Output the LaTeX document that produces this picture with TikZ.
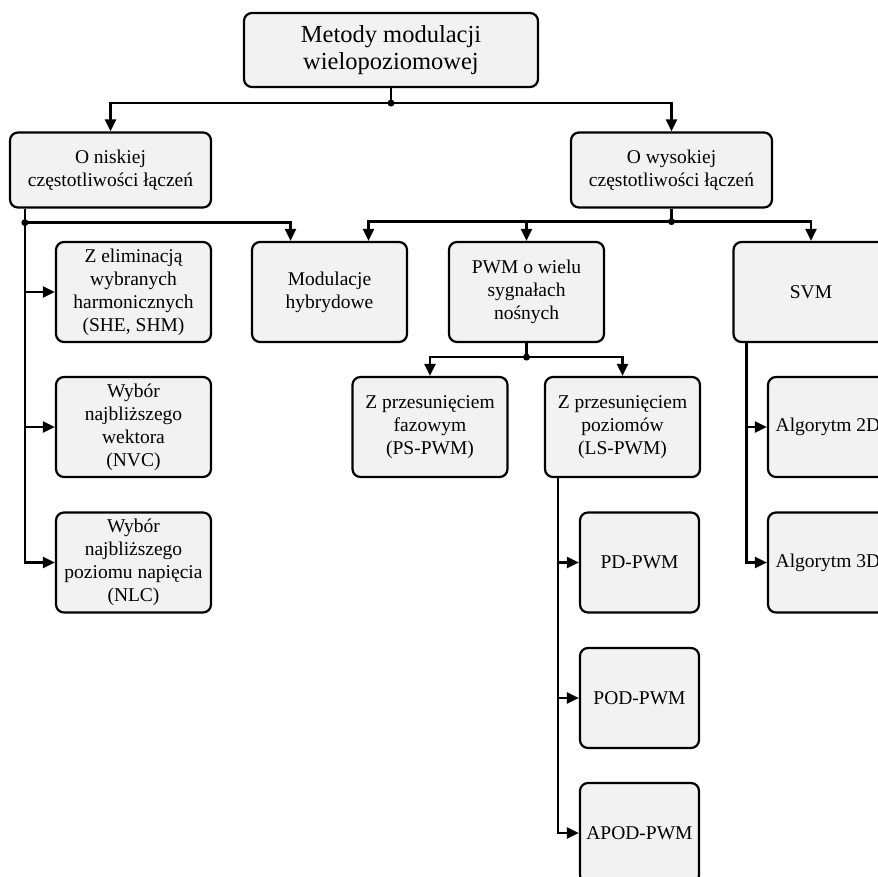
\documentclass[tikz,border=0pt]{standalone}
\usepackage{fontspec}
\setmainfont{Liberation Serif}
\usetikzlibrary{arrows.meta,calc}
\definecolor{boxfill}{HTML}{F2F2F2}
\begin{document}
\begin{tikzpicture}[x=1pt,y=-1pt,
  box/.style={draw, line width=2.2pt, rounded corners=8pt, fill=boxfill, align=center,
    inner sep=2pt, minimum height=100pt, minimum width=155pt,
    font=\fontsize{19.5}{23}\selectfont},
  conn/.style={line width=2.2pt},
  arr/.style={conn, -{Triangle[length=12pt,width=11pt]}},
  dotj/.style={circle, fill, inner sep=0pt, minimum size=7pt}]
\useasboundingbox (0,0) rectangle (878,877);
\clip (0,0) rectangle (878,877);
% nodes
\node[box, minimum width=294pt, minimum height=74pt, font=\fontsize{24.5}{27}\selectfont] (top) at (391,50) {Metody modulacji\\wielopoziomowej};
\node[box, minimum width=201pt, minimum height=75pt] (nisk) at (110.5,170) {O niskiej\\częstotliwości łączeń};
\node[box, minimum width=201pt, minimum height=75pt] (wys) at (671.5,170) {O wysokiej\\częstotliwości łączeń};
\node[box] (zel) at (133.5,292) {Z eliminacją\\wybranych\\harmonicznych\\(SHE, SHM)};
\node[box] (mod) at (329.5,292) {Modulacje\\hybrydowe};
\node[box] (pwm) at (526.5,292) {PWM o wielu\\sygnałach\\nośnych};
\node[box] (svm) at (811,292) {SVM};
\node[box] (nvc) at (133.5,427) {Wybór\\najbliższego\\wektora\\(NVC)};
\node[box] (ps) at (430,427) {Z przesunięciem\\fazowym\\(PS-PWM)};
\node[box] (ls) at (622.5,427) {Z przesunięciem\\poziomów\\(LS-PWM)};
\node[box, minimum width=120pt] (alg2) at (828,427) {Algorytm 2D};
\node[box] (nlc) at (133.5,562.5) {Wybór\\najbliższego\\poziomu napięcia\\(NLC)};
\node[box, minimum width=119pt] (pd) at (639.5,562.5) {PD-PWM};
\node[box, minimum width=120pt] (alg3) at (828,562.5) {Algorytm 3D};
\node[box, minimum width=119pt] (pod) at (639.5,698) {POD-PWM};
\node[box, minimum width=119pt] (apod) at (639.5,833) {APOD-PWM};
% junctions
\coordinate (J1) at ($(top.south)+(0,15)$);
\coordinate (J2) at ($(nisk.south west)+(16,14)$);
\coordinate (J3) at ($(wys.south)+(0,13)$);
\coordinate (J4) at ($(pwm.south)+(0,14)$);
\coordinate (S) at ($(svm.south west)+(14,0)$);
\coordinate (L) at ($(ls.south west)+(14,0)$);
% connectors
\draw[conn] (top.south) -- (J1);
\draw[arr] (J1) -| (nisk.north);
\draw[arr] (J1) -| (wys.north);
\draw[arr] (J2 |- nisk.south) |- (nlc.west);
\draw[arr] (J2 |- zel.west) -- (zel.west);
\draw[arr] (J2 |- nvc.west) -- (nvc.west);
\draw[arr] (J2) -| ($(mod.north)+(-39,0)$);
\draw[conn] (wys.south) -- (J3);
\draw[arr] (J3) -| ($(mod.north)+(39,0)$);
\draw[arr] (J3) -| (pwm.north);
\draw[arr] (J3) -| (svm.north);
\draw[conn] (pwm.south) -- (J4);
\draw[arr] (J4) -| (ps.north);
\draw[arr] (J4) -| (ls.north);
\draw[arr] (S) |- (alg3.west);
\draw[arr] (S |- alg2.west) -- (alg2.west);
\draw[arr] (L) |- (apod.west);
\draw[arr] (L |- pd.west) -- (pd.west);
\draw[arr] (L |- pod.west) -- (pod.west);
\node[dotj] (d1) at (J1) {};
\node[dotj] (d2) at (J2) {};
\node[dotj] (d3) at (J3) {};
\node[dotj] (d4) at (J4) {};
\end{tikzpicture}
\end{document}
